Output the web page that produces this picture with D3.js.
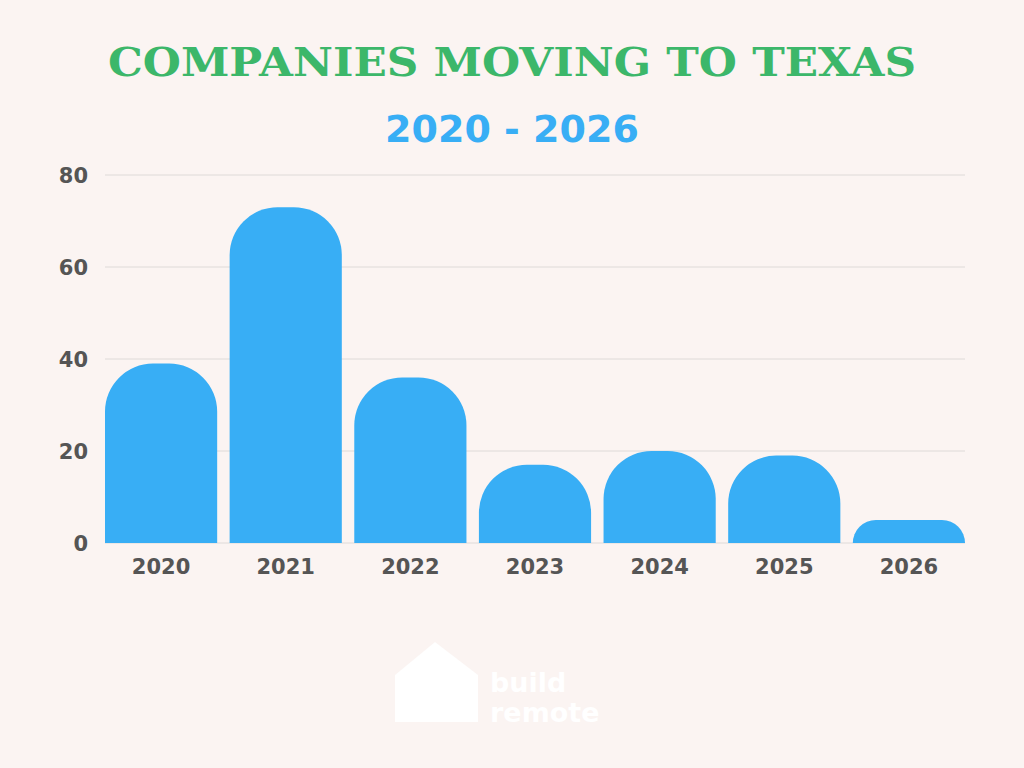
<!DOCTYPE html><html><head><meta charset="utf-8">
<script src="https://cdn.jsdelivr.net/npm/d3@7"></script>
<style>body{margin:0;background:#fbf4f2}</style></head><body><svg id="c" width="1024" height="768"></svg>
<script>
const years=["2020","2021","2022","2023","2024","2025","2026"];
const companies=[39,73,36,17,20,19,5];
const yTicks=[0,20,40,60,80];
const svg=d3.select("#c");
svg.append("rect").attr("width",1024).attr("height",768).attr("fill","#fbf4f2");
const x=d3.scaleBand().domain(years).range([105,965]).paddingInner(0.1).paddingOuter(0);
const y=d3.scaleLinear().domain([0,80]).range([543,175]);
svg.selectAll(".g").data(yTicks).join("line").attr("x1",105).attr("x2",965)
 .attr("y1",d=>y(d)).attr("y2",d=>y(d)).attr("stroke","#dedad8").attr("stroke-width",1);
svg.selectAll(".yl").data(yTicks).join("text").attr("x",88).attr("y",d=>y(d)+8)
 .attr("text-anchor","end").attr("font-family","DejaVu Sans").attr("font-weight","bold")
 .attr("font-size",21).attr("fill","#555").text(d=>d);
svg.selectAll(".b").data(years).join("path").attr("fill","#38aef5").attr("d",(d,i)=>{
 const x0=x(d),w=x.bandwidth(),yt=y(companies[i]),yb=y(0),h=yb-yt,r=Math.min(48,h,w/2);
 return `M${x0},${yb}V${yt+r}A${r},${r} 0 0 1 ${x0+r},${yt}H${x0+w-r}A${r},${r} 0 0 1 ${x0+w},${yt+r}V${yb}Z`;});
svg.selectAll(".xl").data(years).join("text").attr("x",d=>x(d)+x.bandwidth()/2).attr("y",574)
 .attr("text-anchor","middle").attr("font-family","DejaVu Sans").attr("font-weight","bold")
 .attr("font-size",21).attr("fill","#555").text(d=>d);
svg.append("text").attr("x",512).attr("y",76).attr("text-anchor","middle").attr("font-family","DejaVu Serif")
 .attr("font-weight","bold").attr("font-size",40).attr("fill","#3cb76a").attr("textLength",808)
 .attr("lengthAdjust","spacingAndGlyphs").text("COMPANIES MOVING TO TEXAS");
svg.append("text").attr("x",512).attr("y",142).attr("text-anchor","middle").attr("font-family","DejaVu Sans")
 .attr("font-weight","bold").attr("font-size",38).attr("fill","#38aef5").text("2020 - 2026");
svg.append("text").attr("x",490).attr("y",692).attr("font-family","DejaVu Sans").attr("font-weight","bold")
 .attr("font-size",27).attr("fill","#ffffff").text("build");
svg.append("text").attr("x",490).attr("y",722).attr("font-family","DejaVu Sans").attr("font-weight","bold")
 .attr("font-size",27).attr("fill","#ffffff").text("remote");
svg.append("path").attr("d","M395,722V675L435,642L478,675V722Z").attr("fill","#ffffff");
</script></body></html>
